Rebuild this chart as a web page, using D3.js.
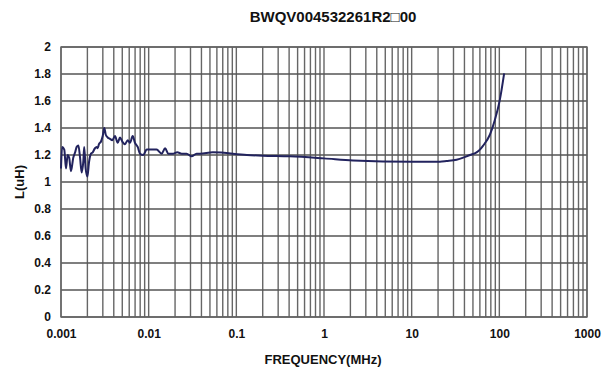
<!DOCTYPE html>
<html><head><meta charset="utf-8">
<script src="https://cdn.jsdelivr.net/npm/d3@7"></script>
<style>body{margin:0;background:#fff}svg{display:block;font-family:"Liberation Sans",Arial,sans-serif}</style>
</head><body>
<script>
const title = "BWQV004532261R2\u25A100";
const xLabel = "FREQUENCY(MHz)";
const yLabel = "L(uH)";
const xTicks = [0.001, 0.01, 0.1, 1, 10, 100, 1000];
const xTickLabels = ["0.001", "0.01", "0.1", "1", "10", "100", "1000"];
const yTicks = [0, 0.2, 0.4, 0.6, 0.8, 1, 1.2, 1.4, 1.6, 1.8, 2];
const freq = [0.001, 0.00103, 0.00109, 0.00114, 0.00119, 0.00124, 0.0013, 0.00138, 0.00145, 0.00151, 0.00158, 0.00165, 0.00172, 0.0018, 0.00184, 0.00191, 0.002, 0.00209, 0.0022, 0.0023, 0.00244, 0.00255, 0.00262, 0.00271, 0.00286, 0.00299, 0.00312, 0.00324, 0.00341, 0.00362, 0.00385, 0.00413, 0.00443, 0.00471, 0.005, 0.00537, 0.00577, 0.00612, 0.00657, 0.00698, 0.0075, 0.00796, 0.00867, 0.00949, 0.0108, 0.0123, 0.0141, 0.0154, 0.0167, 0.0191, 0.0212, 0.0238, 0.0271, 0.0309, 0.0352, 0.0385, 0.054, 0.132, 0.2, 0.408, 1.0, 2.14, 10.3, 21, 25, 32.5, 42.3, 46.1, 55, 60, 65.4, 78, 88.9, 101.4, 113.5];
const inductance = [1.10, 1.26, 1.24, 1.10, 1.20, 1.18, 1.08, 1.18, 1.22, 1.26, 1.27, 1.18, 1.07, 1.16, 1.26, 1.10, 1.04, 1.15, 1.21, 1.22, 1.25, 1.26, 1.25, 1.28, 1.30, 1.34, 1.40, 1.35, 1.33, 1.32, 1.31, 1.34, 1.29, 1.33, 1.30, 1.28, 1.31, 1.29, 1.34, 1.29, 1.26, 1.21, 1.20, 1.24, 1.24, 1.24, 1.21, 1.25, 1.21, 1.21, 1.22, 1.21, 1.21, 1.19, 1.21, 1.21, 1.22, 1.20, 1.195, 1.19, 1.175, 1.16, 1.15, 1.15, 1.155, 1.165, 1.19, 1.20, 1.22, 1.24, 1.27, 1.35, 1.46, 1.61, 1.805];

const W = 609, H = 372;
const m = {left: 61, right: 587, top: 47, bottom: 317};
const svg = d3.select("body").append("svg").attr("width", W).attr("height", H);
const x = d3.scaleLog().domain([0.001, 1000]).range([m.left, m.right]);
const y = d3.scaleLinear().domain([0, 2]).range([m.bottom, m.top]);

const vlines = [];
for (let e = -3; e < 3; e++) for (let k = 1; k <= 9; k++) vlines.push(k * Math.pow(10, e));
vlines.push(1000);
const g = svg.append("g");
g.selectAll(".v").data(vlines).join("line")
  .attr("x1", d => x(d)).attr("x2", d => x(d)).attr("y1", m.top).attr("y2", m.bottom)
  .attr("stroke", "#666").attr("stroke-width", 1.4);
g.selectAll(".h").data(yTicks).join("line")
  .attr("x1", m.left).attr("x2", m.right).attr("y1", d => y(d)).attr("y2", d => y(d))
  .attr("stroke", "#555").attr("stroke-width", 1.5);
g.append("rect").attr("x", m.left).attr("y", m.top).attr("width", m.right - m.left).attr("height", m.bottom - m.top)
  .attr("fill", "none").attr("stroke", "#666").attr("stroke-width", 1.4);

const fontFam = "Liberation Sans, Arial, sans-serif";
const yAxis = d3.axisLeft(y).tickValues(yTicks).tickSize(0).tickPadding(10).tickFormat(d => d3.format("~g")(d));
svg.append("g").attr("transform", `translate(${m.left},0)`).call(yAxis)
  .call(s => s.select(".domain").remove())
  .selectAll("text").attr("font-size", 12).attr("font-weight", "bold").attr("fill", "#111")
  .attr("font-family", fontFam);
const xAxis = d3.axisBottom(x).tickValues(xTicks).tickSize(0).tickPadding(12).tickFormat((d, i) => xTickLabels[i]);
svg.append("g").attr("transform", `translate(0,${m.bottom})`).call(xAxis)
  .call(s => s.select(".domain").remove())
  .selectAll("text").attr("font-size", 12).attr("font-weight", "bold").attr("fill", "#111")
  .attr("font-family", fontFam);

const line = d3.line().x((d, i) => x(freq[i])).y(d => y(d)).curve(d3.curveMonotoneX);
svg.append("path").datum(inductance).attr("d", line).attr("fill", "none")
  .attr("stroke", "#22235e").attr("stroke-width", 2).attr("stroke-linejoin", "round");

svg.append("text").attr("x", 333).attr("y", 22).attr("text-anchor", "middle")
  .attr("font-size", 15).attr("font-weight", "bold").attr("fill", "#111").text(title);
svg.append("text").attr("x", 323).attr("y", 364).attr("text-anchor", "middle")
  .attr("font-size", 13).attr("font-weight", "bold").attr("fill", "#111").text(xLabel);
svg.append("text").attr("transform", "translate(24,182) rotate(-90)").attr("text-anchor", "middle")
  .attr("font-size", 13).attr("font-weight", "bold").attr("fill", "#111").text(yLabel);
</script>
</body></html>
